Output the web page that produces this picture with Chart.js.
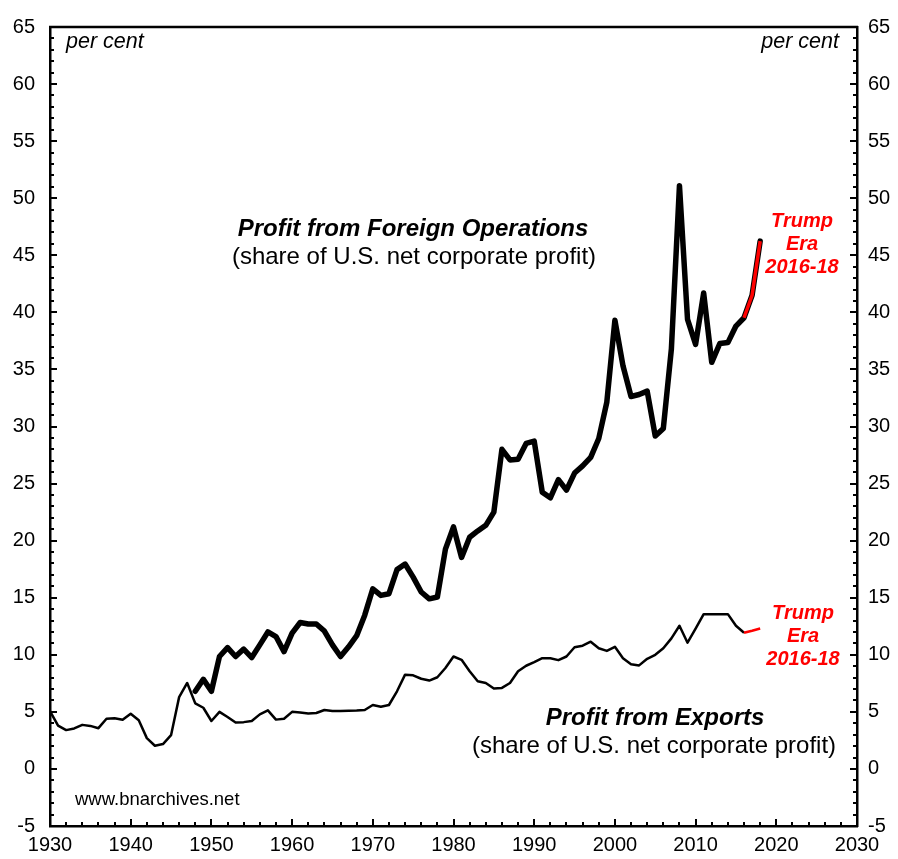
<!DOCTYPE html>
<html>
<head>
<meta charset="utf-8">
<script src="https://cdn.jsdelivr.net/npm/chart.js@4.4.1/dist/chart.umd.min.js"></script>
<style>
  html, body { margin: 0; padding: 0; background: #fff; }
  #chart { display: block; }
</style>
</head>
<body>
<canvas id="chart" width="898" height="859"></canvas>
<script>
// ----- data (per cent of U.S. net corporate profit)
const exportStart = 1930;
const exportValues = [
  5.07, 3.8, 3.4, 3.55, 3.86, 3.77, 3.57, 4.4, 4.44, 4.3,       // 1930s
  4.84, 4.26, 2.7, 2.03, 2.18, 2.96, 6.29, 7.53, 5.74, 5.36,    // 1940s
  4.2, 5.0, 4.55, 4.06, 4.1, 4.2, 4.78, 5.13, 4.32, 4.4,        // 1950s
  5.0, 4.95, 4.85, 4.9, 5.16, 5.07, 5.08, 5.1, 5.12, 5.16,      // 1960s
  5.6, 5.45, 5.6, 6.8, 8.26, 8.2, 7.9, 7.74, 8.03, 8.84,        // 1970s
  9.85, 9.56, 8.55, 7.68, 7.53, 7.05, 7.1, 7.53, 8.55, 9.04,    // 1980s
  9.35, 9.7, 9.7, 9.53, 9.85, 10.66, 10.8, 11.15, 10.57, 10.34, // 1990s
  10.7, 9.7, 9.18, 9.07, 9.65, 10.0, 10.57, 11.44, 12.54, 11.06,// 2000s
  12.3, 13.56, 13.56, 13.56, 13.56, 12.54, 11.93, 12.1, 12.3    // 2010-18
];

const foreignStart = 1948;
const foreignValues = [
  6.8, 7.85,                                                    // 1948-49
  6.8, 9.85, 10.63, 9.85, 10.5, 9.76, 10.87, 12.0, 11.6, 10.28, // 1950s
  11.9, 12.83, 12.7, 12.7, 12.08, 10.87, 9.85, 10.7, 11.67, 13.47, // 1960s
  15.78, 15.2, 15.35, 17.46, 17.95, 16.8, 15.5, 14.9, 15.06, 19.26, // 1970s
  21.2, 18.53, 20.3, 20.85, 21.34, 22.5, 28.0, 27.07, 27.13, 28.52, // 1980s
  28.72, 24.24, 23.75, 25.34, 24.42, 25.92, 26.55, 27.3, 28.95, 32.14, // 1990s
  39.3, 35.32, 32.63, 32.8, 33.1, 29.16, 29.83, 36.8, 51.1, 39.38, // 2000s
  37.2, 41.7, 35.62, 37.27, 37.35, 38.8, 39.53, 41.5, 46.24     // 2010-18
];

const trumpStart = 2016;
const xTicks = [1930, 2030, 10];
const yTicks = [-5, 65, 5];

function toPoints(start, values) {
  return values.map((v, i) => ({ x: start + i, y: v }));
}

const exportPts = toPoints(exportStart, exportValues);
const foreignPts = toPoints(foreignStart, foreignValues);
const foreignTrump = foreignPts.filter(p => p.x >= trumpStart);

// ----- frame ticks (inward, minor + major) and top border
const frameTicks = {
  id: 'frameTicks',
  afterDraw(chart) {
    const ctx = chart.ctx;
    const a = chart.chartArea;
    const x = chart.scales.x, y = chart.scales.y;
    ctx.save();
    ctx.strokeStyle = '#000';
    ctx.lineWidth = 2;
    ctx.beginPath();
    for (let v = yTicks[0]; v <= yTicks[1]; v++) {
      const py = Math.round(y.getPixelForValue(v));
      const len = v % 5 === 0 ? 7 : 4;
      ctx.moveTo(a.left, py); ctx.lineTo(a.left + len, py);
      ctx.moveTo(a.right, py); ctx.lineTo(a.right - len, py);
    }
    for (let yr = xTicks[0]; yr <= xTicks[1]; yr += 2) {
      const px = Math.round(x.getPixelForValue(yr));
      const len = yr % 10 === 0 ? 7 : 4;
      ctx.moveTo(px, a.bottom); ctx.lineTo(px, a.bottom - len);
    }
    ctx.stroke();
    ctx.lineWidth = 2.5;
    ctx.beginPath();
    ctx.moveTo(a.left - 1, a.top); ctx.lineTo(a.right + 1, a.top);
    ctx.stroke();
    ctx.restore();
  }
};

// ----- annotations
const notes = {
  id: 'notes',
  afterDraw(chart) {
    const ctx = chart.ctx;
    ctx.save();
    ctx.textBaseline = 'middle';
    ctx.fillStyle = '#000';

    ctx.font = 'italic 21.5px "Liberation Sans", Arial, sans-serif';
    ctx.textAlign = 'left';
    ctx.fillText('per cent', 66, 42);
    ctx.textAlign = 'right';
    ctx.fillText('per cent', 839, 42);

    ctx.textAlign = 'center';
    ctx.font = 'italic bold 24px "Liberation Sans", Arial, sans-serif';
    ctx.fillText('Profit from Foreign Operations', 413, 229);
    ctx.fillText('Profit from Exports', 655, 718);
    ctx.font = '24px "Liberation Sans", Arial, sans-serif';
    ctx.fillText('(share of U.S. net corporate profit)', 414, 257);
    ctx.fillText('(share of U.S. net corporate profit)', 654, 746);

    ctx.fillStyle = '#ff0000';
    ctx.font = 'italic bold 20px "Liberation Sans", Arial, sans-serif';
    ['Trump', 'Era', '2016-18'].forEach((t, i) => {
      ctx.fillText(t, 802, 221 + i * 23);
      ctx.fillText(t, 803, 613 + i * 23);
    });

    ctx.fillStyle = '#000';
    ctx.textAlign = 'left';
    ctx.font = '18.5px "Liberation Sans", Arial, sans-serif';
    ctx.fillText('www.bnarchives.net', 75, 800);
    ctx.restore();
  }
};

const tickFont = { family: '"Liberation Sans", Arial, sans-serif', size: 20 };

new Chart(document.getElementById('chart'), {
  type: 'line',
  data: {
    datasets: [
      {
        label: 'Profit from Exports',
        data: exportPts,
        order: 2,
        borderColor: '#000',
        borderWidth: 2.5,
        pointRadius: 0,
        borderJoinStyle: 'round',
        segment: {
          borderColor: c => c.p0.parsed.x >= trumpStart ? '#ff0000' : '#000'
        }
      },
      {
        label: 'Profit from Foreign Operations',
        data: foreignPts,
        order: 1,
        borderColor: '#000',
        borderWidth: 5.5,
        pointRadius: 0,
        borderJoinStyle: 'round',
        borderCapStyle: 'round'
      },
      {
        label: 'Trump Era',
        data: foreignTrump,
        order: 0,
        borderColor: '#ff0000',
        borderWidth: 3.5,
        pointRadius: 0,
        borderJoinStyle: 'round'
      }
    ]
  },
  options: {
    responsive: false,
    animation: false,
    layout: { padding: { top: 20, left: 0, right: 0, bottom: 0 } },
    plugins: {
      legend: { display: false },
      tooltip: { enabled: false }
    },
    scales: {
      x: {
        type: 'linear',
        position: 'bottom',
        min: xTicks[0],
        max: xTicks[1],
        ticks: {
          stepSize: xTicks[2],
          color: '#000',
          font: tickFont,
          padding: 7,
          maxRotation: 0,
          callback: v => String(v)
        },
        grid: { display: false, drawTicks: false },
        border: { display: true, color: '#000', width: 2.5 },
        afterFit: s => { s.height = 33; }
      },
      y: {
        position: 'left',
        min: yTicks[0],
        max: yTicks[1],
        ticks: { stepSize: yTicks[2], color: '#000', font: tickFont, padding: 15 },
        grid: { display: false, drawTicks: false },
        border: { display: true, color: '#000', width: 2.5 },
        afterFit: s => { s.width = 50; }
      },
      y2: {
        position: 'right',
        min: yTicks[0],
        max: yTicks[1],
        ticks: { stepSize: yTicks[2], color: '#000', font: tickFont, padding: 11 },
        grid: { display: false, drawTicks: false },
        border: { display: true, color: '#000', width: 2.5 },
        afterFit: s => { s.width = 41; }
      }
    }
  },
  plugins: [frameTicks, notes]
});
</script>
</body>
</html>
